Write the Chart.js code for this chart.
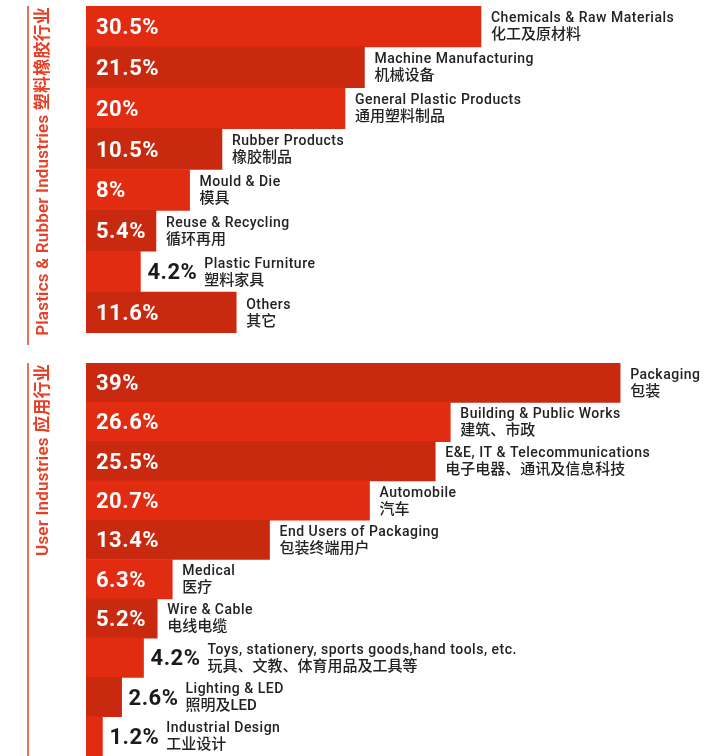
<!DOCTYPE html>
<html>
<head>
<meta charset="utf-8">
<script src="https://cdn.jsdelivr.net/npm/chart.js@4/dist/chart.umd.min.js"></script>
<style>
  html, body { margin: 0; padding: 0; background: #fff; }
  #wrap { position: relative; width: 716px; height: 756px; overflow: hidden; }
  canvas { position: absolute; left: 0; }
  #plastics { top: 0; }
  #users { top: 355px; }
</style>
</head>
<body>
<div id="wrap">
  <canvas id="plastics" width="716" height="345"></canvas>
  <canvas id="users" width="716" height="401"></canvas>
</div>
<script>
'use strict';

// Plastics & Rubber Industries
var plasticsEn = ['Chemicals & Raw Materials', 'Machine Manufacturing', 'General Plastic Products', 'Rubber Products', 'Mould & Die', 'Reuse & Recycling', 'Plastic Furniture', 'Others'];
var plasticsZh = ['化工及原材料', '机械设备', '通用塑料制品', '橡胶制品', '模具', '循环再用', '塑料家具', '其它'];
var plasticsValues = [30.5, 21.5, 20, 10.5, 8, 5.4, 4.2, 11.6];

// User Industries
var usersEn = ['Packaging', 'Building & Public Works', 'E&E, IT & Telecommunications', 'Automobile', 'End Users of Packaging', 'Medical', 'Wire & Cable', 'Toys, stationery, sports goods,hand tools, etc.', 'Lighting & LED', 'Industrial Design'];
var usersZh = ['包装', '建筑、市政', '电子电器、通讯及信息科技', '汽车', '包装终端用户', '医疗', '电线电缆', '玩具、文教、体育用品及工具等', '照明及LED', '工业设计'];
var usersValues = [39, 26.6, 25.5, 20.7, 13.4, 6.3, 5.2, 4.2, 2.6, 1.2];

var BRIGHT = '#e22c11';
var DARK = '#c9290e';
var TITLE_RED = '#e63f25';
var FONT = 'Roboto, "Noto Sans CJK SC", sans-serif';

var barLabels = {
  id: 'barLabels',
  afterDatasetsDraw: function (chart, args, opts) {
    var ctx = chart.ctx;
    var area = chart.chartArea;
    var meta = chart.getDatasetMeta(0);
    var values = chart.data.datasets[0].data;
    ctx.save();
    meta.data.forEach(function (bar, i) {
      var v = values[i];
      var txt = v + '%';
      var labelX = bar.x + 10;
      ctx.font = 'bold 22px ' + FONT;
      ctx.letterSpacing = '0.5px';
      ctx.textBaseline = 'alphabetic';
      ctx.textAlign = 'left';
      if (v >= 5) {
        ctx.fillStyle = '#fff';
        ctx.fillText(txt, area.left + 10, bar.y + 7.5);
      } else {
        ctx.fillStyle = '#1a1a1a';
        ctx.fillText(txt, bar.x + 7, bar.y + 7.5);
        labelX = bar.x + 7 + ctx.measureText(txt).width + 7;
      }
      ctx.fillStyle = '#222';
      ctx.font = '500 14px ' + FONT;
      ctx.letterSpacing = '0.5px';
      ctx.fillText(opts.en[i], labelX, bar.y - 4);
      ctx.font = '500 15px ' + FONT;
      ctx.letterSpacing = '0px';
      ctx.fillText(opts.zh[i], labelX, bar.y + 13);
    });

    // side rule and rotated group title
    ctx.strokeStyle = TITLE_RED;
    ctx.lineWidth = 1.5;
    ctx.beginPath();
    ctx.moveTo(28, area.top);
    ctx.lineTo(28, area.bottom + opts.ruleExtra);
    ctx.stroke();
    ctx.translate(44, area.top + 1);
    ctx.rotate(-Math.PI / 2);
    ctx.fillStyle = TITLE_RED;
    ctx.font = '600 17px ' + FONT;
    ctx.letterSpacing = '0.2px';
    ctx.textAlign = 'right';
    ctx.textBaseline = 'middle';
    ctx.fillText(opts.title, 0, 0);
    ctx.restore();
  }
};

function makeChart(id, en, zh, values, xMax, pad, colorFn, title, ruleExtra) {
  return new Chart(document.getElementById(id).getContext('2d'), {
    type: 'bar',
    data: {
      labels: en,
      datasets: [{
        data: values,
        backgroundColor: function (c) { return colorFn(c.dataIndex); },
        borderWidth: 0,
        categoryPercentage: 1,
        barPercentage: 1
      }]
    },
    options: {
      indexAxis: 'y',
      responsive: false,
      animation: false,
      layout: { padding: pad },
      scales: {
        x: { display: false, min: 0, max: xMax },
        y: { display: false }
      },
      plugins: {
        legend: { display: false },
        tooltip: { enabled: false },
        barLabels: { en: en, zh: zh, title: title, ruleExtra: ruleExtra }
      }
    },
    plugins: [barLabels]
  });
}

makeChart('plastics', plasticsEn, plasticsZh, plasticsValues, 48.65,
  { top: 6, left: 86, right: 0, bottom: 12 },
  function (i) { return i % 2 === 0 ? BRIGHT : DARK; },
  'Plastics & Rubber Industries 塑料橡胶行业', 16);

makeChart('users', usersEn, usersZh, usersValues, 46,
  { top: 8, left: 86, right: 0, bottom: 0 },
  function (i) { return i % 2 === 0 ? DARK : BRIGHT; },
  'User Industries 应用行业', 0);
</script>
</body>
</html>
